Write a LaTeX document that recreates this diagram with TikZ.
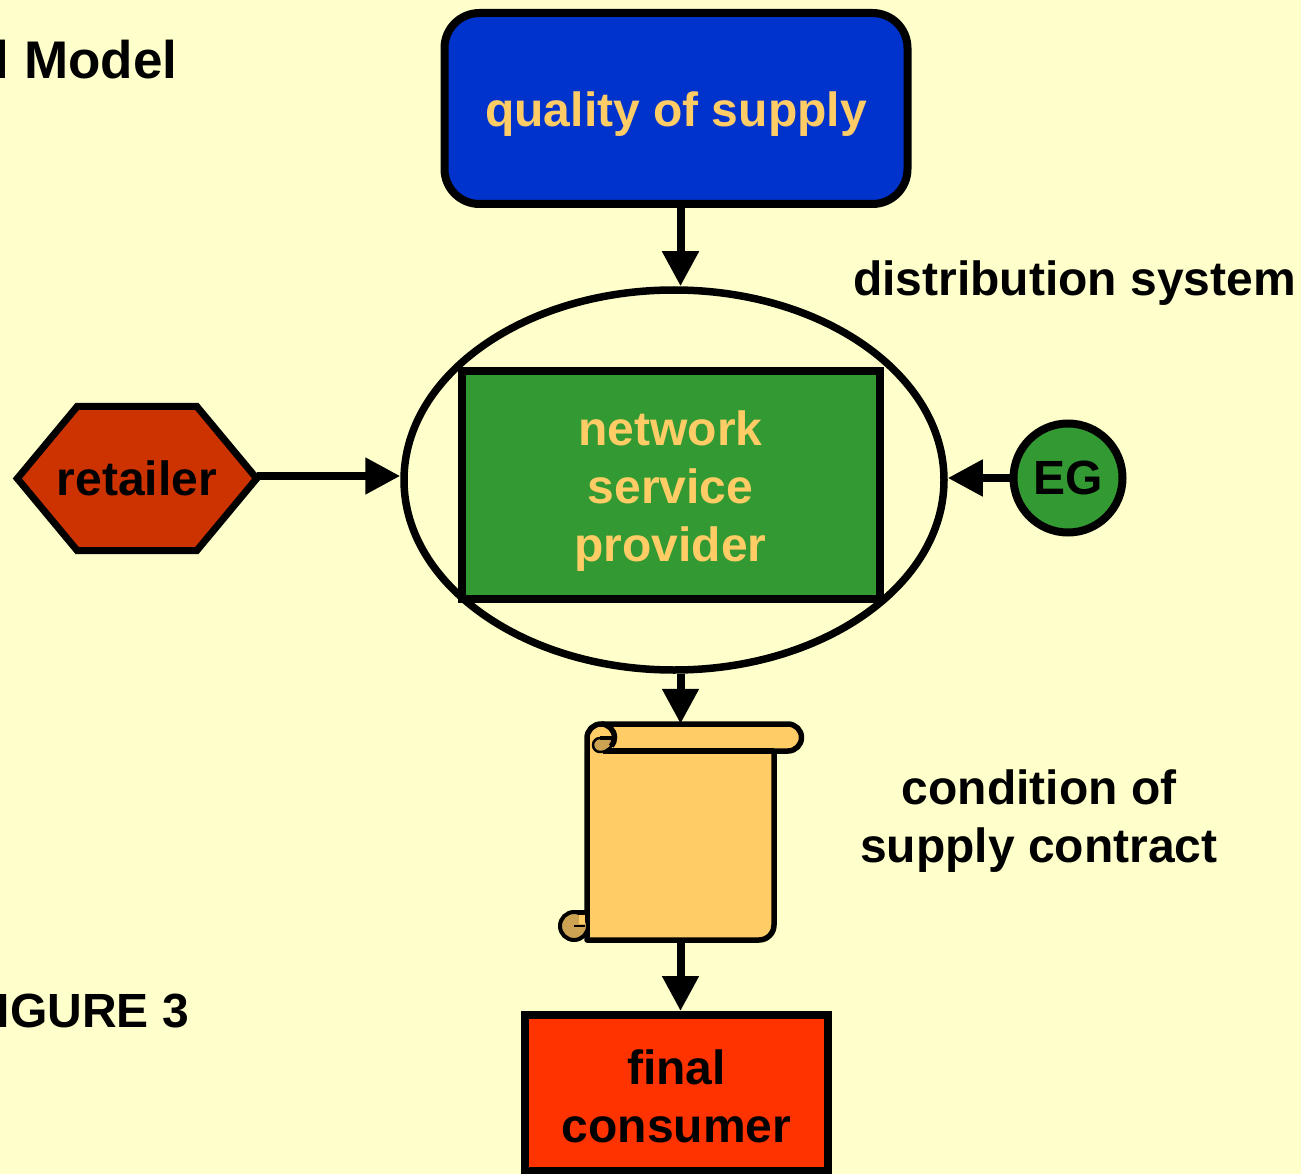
\documentclass[tikz,border=0pt]{standalone}
\usepackage{fontspec}
\setmainfont{Liberation Sans}
\usetikzlibrary{arrows.meta, shapes.geometric}
\definecolor{paper}{HTML}{FFFFCC}
\definecolor{royal}{HTML}{0033CC}
\definecolor{leaf}{HTML}{339933}
\definecolor{rust}{HTML}{CC3300}
\definecolor{flame}{HTML}{FF3300}
\definecolor{sand}{HTML}{FFCC66}
\definecolor{tan}{HTML}{CCA352}
\tikzset{
    box/.style={draw, line width=8pt, align=center, inner sep=0pt, text depth=0pt},
    caption/.style={align=center, inner sep=0pt},
    flow/.style={line width=8pt, -{Triangle[length=35pt, width=35pt]}},
    scrollline/.style={draw, line width=5.5pt, line join=round}
}
\begin{document}
\begin{tikzpicture}[x=1pt, y=-1pt, font=\fontsize{48}{58}\selectfont\bfseries]
    \useasboundingbox (0,0) rectangle (1301,1174);
    \clip (0,0) rectangle (1301,1174);
    \fill[paper] (0,0) rectangle (1301,1174);

    % Main blocks
    \node[box, fill=royal, text=sand, rounded corners=35pt, text height=37pt, minimum width=463pt, minimum height=191pt] (quality) at (676,108.5) {quality of supply};
    \node[draw, ellipse, line width=7.5pt, inner sep=0pt, minimum width=540pt, minimum height=380pt] (system) at (674,480) {};
    \node[box, fill=leaf, text=sand, text height=154pt, minimum width=418pt, minimum height=228pt] (provider) at (670.5,484.5) {network\\service\\provider};
    \node[box, circle, fill=leaf, minimum size=109pt] (eg) at (1068,478) {EG};
    \node[box, fill=flame, text height=99pt, minimum width=303pt, minimum height=156pt] (consumer) at (676.5,1093) {final\\consumer};

    % Retailer hexagon
    \node[inner sep=0pt, minimum width=239pt, minimum height=144pt] (retailer) at (137,478.5) {};
    \draw[fill=rust, line width=7pt] (retailer.west) -- ([xshift=60pt]retailer.north west) -- ([xshift=-60pt]retailer.north east) -- (retailer.east) -- ([xshift=-60pt]retailer.south east) -- ([xshift=60pt]retailer.south west) -- cycle;
    \node[caption] (retailerlabel) at (retailer) {retailer};

    % Scroll
    \node[inner sep=0pt, minimum width=187pt, minimum height=216pt] (contract) at (680.5,832) {};
    \path[scrollline, fill=sand] (587,738) arc[start angle=180, end angle=270, radius=14] -- (788,724) arc[start angle=270, end angle=450, radius=13.5] -- (774,751) -- (774,925) arc[start angle=0, end angle=90, radius=15] -- (587,940) -- cycle;
    \draw[line width=5.5pt] (603,751) -- (774,751);
    \path[scrollline, fill=tan, line width=4pt] (574,940) arc[start angle=90, end angle=450, radius=14] -- cycle;
    \fill[sand] (579,915) rectangle (585,924);
    \draw[line width=2.5pt] (574,926) -- (585,926);
    \draw[line width=4pt] (574,912) -- (587,912);
    \path[scrollline, fill=tan, line width=2.5pt] (615,738) -- (600,738) arc[start angle=270, end angle=90, radius=7] arc[start angle=90, end angle=0, radius=14];
    \draw[line width=4pt] (600,738) -- (615,738);
    \draw[line width=5.5pt] (601,724) arc[start angle=270, end angle=400, radius=13.5];

    % Connections
    \draw[flow] (quality.south -| contract.center) -- (system.north -| contract.center);
    \draw[flow] ([yshift=2.5pt]retailer.east) -- ([yshift=2.5pt]system.west |- retailer.east);
    \draw[flow] (eg) -- (system.east |- eg);
    \draw[flow] (system.south -| contract.center) -- (contract.north);
    \draw[flow] (contract.south) -- (consumer.north -| contract.center);

    % Labels
    \node[caption, anchor=base west] (systemlabel) at (853,296) {distribution system};
    \node[caption, anchor=base] (contractlabel) at (1039,862) {condition of\\supply contract};
    \node[caption, anchor=base west, font=\fontsize{53}{58}\selectfont\bfseries] (modellabel) at (-5.5,79) {l Model};
    \node[caption, anchor=base east] (figurelabel) at (189,1027) {IGURE 3};
\end{tikzpicture}
\end{document}
